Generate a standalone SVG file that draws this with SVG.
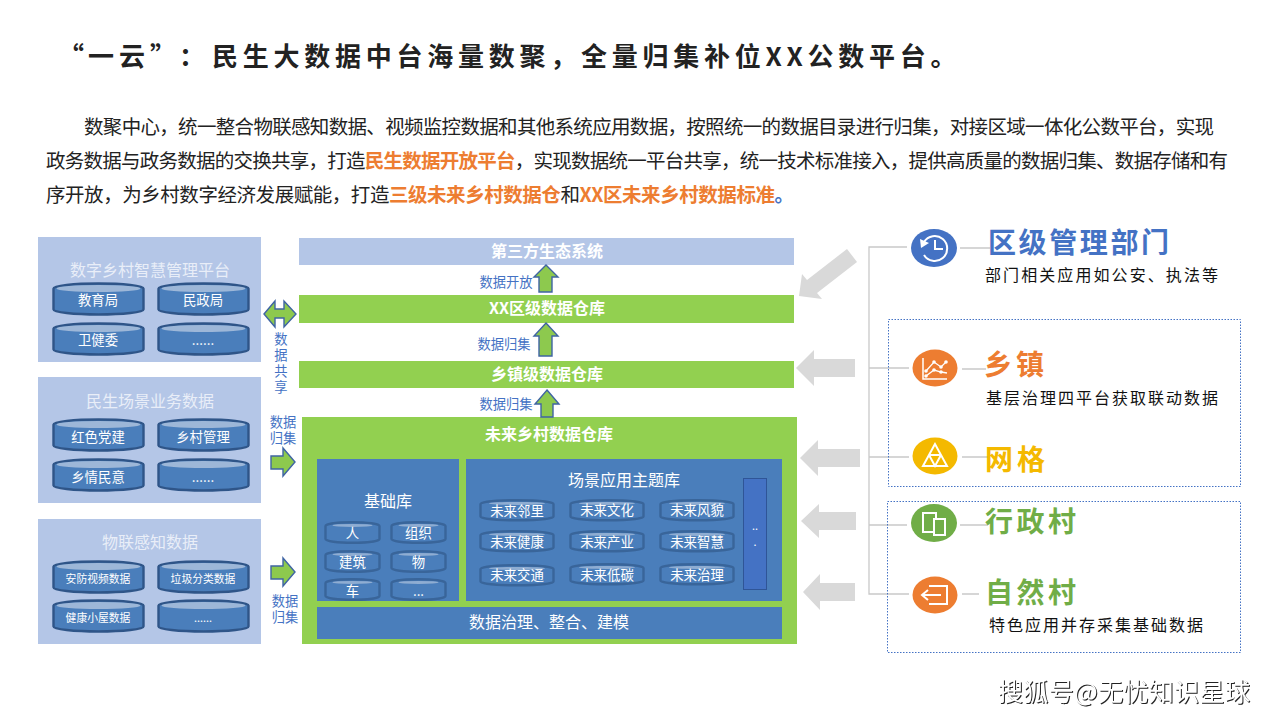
<svg xmlns="http://www.w3.org/2000/svg" width="1280" height="720" viewBox="0 0 1280 720">
<style>
text{font-family:"Noto Sans CJK SC","Noto Sans",sans-serif}
.panel{fill:#b4c6e7}.green{fill:#92d050}.blue{fill:#4a7ebb}
.ct{text-anchor:middle;fill:#fff}
.pt{font-size:16px;fill:#e9eef8;text-anchor:middle}
.cl{font-size:13.4px;fill:#fff;text-anchor:middle}
.cs{font-size:10.8px;fill:#fff;text-anchor:middle}
.flow{font-size:13.3px;fill:#4472c4;text-anchor:middle;font-family:"Liberation Sans","Noto Sans CJK SC",sans-serif}
.up{fill:#8dc94e;stroke:#3f64a3;stroke-width:1.4}
.ga{fill:#d9d9d9}
.ln{stroke:#c9c9c9;stroke-width:1.3;fill:none}
.para{font-size:19.5px;fill:#222}
.hl{fill:#ed7d31;font-weight:700}
.big{font-size:28px;font-weight:700}
.sub{font-size:16px;fill:#111}
.box{fill:none;stroke:#4472c4;stroke-width:1;stroke-dasharray:1.5 1.5}
.ic{fill:none;stroke:#fff;stroke-width:2}
.icf{fill:#fff}
</style>
<defs>
<g id="cylL"><path d="M1.5 6.5A45 5 0 0 1 91.5 6.5V27.5A45 5 0 0 1 1.5 27.5Z" fill="#4a7ebb" stroke="#2f5588" stroke-width="2.4"/><ellipse cx="46.5" cy="6.5" rx="42" ry="3.6" fill="#9db7d8"/></g>
<g id="cylM"><path d="M1.5 5A36.5 3.8 0 0 1 74.5 5V17.5A36.5 3.8 0 0 1 1.5 17.5Z" fill="#4a7ebb" stroke="#39659a" stroke-width="2.4"/><ellipse cx="38" cy="4.4" rx="28" ry="1.5" fill="#8fadd2"/></g>
<g id="cylS"><path d="M1.5 5A27 3.8 0 0 1 55.5 5V18A27 3.8 0 0 1 1.5 18Z" fill="#4a7ebb" stroke="#39659a" stroke-width="2.4"/><ellipse cx="28.5" cy="4.4" rx="20" ry="1.5" fill="#8fadd2"/></g>
</defs>
<rect width="1280" height="720" fill="#fff"/>

<g id="title"><text y="66" font-size="26" font-weight="700" fill="#222"><tspan x="58 88 119 150 179">“一云”：</tspan><tspan x="212" letter-spacing="4.75">民生大数据中台海量数聚，全量归集补位XX公数平台。</tspan></text></g>
<g id="intro">
<text class="para" x="84" y="134" textLength="1130" lengthAdjust="spacing">数聚中心，统一整合物联感知数据、视频监控数据和其他系统应用数据，按照统一的数据目录进行归集，对接区域一体化公数平台，实现</text>
<text class="para" x="46" y="168" textLength="1182" lengthAdjust="spacing">政务数据与政务数据的交换共享，打造<tspan class="hl">民生数据开放平台</tspan>，实现数据统一平台共享，统一技术标准接入，提供高质量的数据归集、数据存储和有</text>
<text class="para" x="46" y="202" textLength="748" lengthAdjust="spacing">序开放，为乡村数字经济发展赋能，打造<tspan class="hl">三级未来乡村数据仓</tspan>和<tspan class="hl">XX区未来乡村数据标准</tspan><tspan fill="#4472c4" font-weight="700">。</tspan></text>
</g>

<g id="panel-platform">
<rect class="panel" x="38" y="237" width="223" height="125"/>
<text class="pt" x="150" y="276">数字乡村智慧管理平台</text>
<use href="#cylL" x="52" y="282"/><text class="cl" x="98" y="305">教育局</text>
<use href="#cylL" x="157" y="282"/><text class="cl" x="203" y="305">民政局</text>
<use href="#cylL" x="52" y="322"/><text class="cl" x="98" y="345">卫健委</text>
<use href="#cylL" x="157" y="322"/><text class="cl" x="203" y="345">......</text>
</g>
<g id="panel-scene">
<rect class="panel" x="38" y="377" width="223" height="126"/>
<text class="pt" x="150" y="407">民生场景业务数据</text>
<use href="#cylL" x="52" y="418"/><text class="cl" x="98" y="442">红色党建</text>
<use href="#cylL" x="157" y="418"/><text class="cl" x="203" y="442">乡村管理</text>
<use href="#cylL" x="52" y="458"/><text class="cl" x="98" y="482">乡情民意</text>
<use href="#cylL" x="157" y="458"/><text class="cl" x="203" y="482">......</text>
</g>
<g id="panel-iot">
<rect class="panel" x="38" y="519" width="223" height="125"/>
<text class="pt" x="150" y="548">物联感知数据</text>
<use href="#cylL" x="52" y="560"/><text class="cs" x="98" y="583">安防视频数据</text>
<use href="#cylL" x="157" y="560"/><text class="cs" x="203" y="583">垃圾分类数据</text>
<use href="#cylL" x="52" y="599"/><text class="cs" x="98" y="622">健康小屋数据</text>
<use href="#cylL" x="157" y="599"/><text class="cs" x="203" y="622">......</text>
</g>

<g id="tier-third"><rect class="panel" x="299" y="238" width="495" height="27"/><text class="ct" x="547" y="257" font-size="16" font-weight="700">第三方生态系统</text></g>
<g id="tier-district"><rect class="green" x="299" y="295" width="495" height="28"/><text class="ct" x="547" y="314" font-size="16" font-weight="700">XX区级数据仓库</text></g>
<g id="tier-town"><rect class="green" x="299" y="361" width="495" height="27"/><text class="ct" x="547" y="380" font-size="16" font-weight="700">乡镇级数据仓库</text></g>

<g id="warehouse">
<rect class="green" x="302" y="417" width="495" height="227"/>
<text class="ct" x="549" y="440" font-size="16" font-weight="700">未来乡村数据仓库</text>
<rect class="blue" x="317" y="459" width="142" height="142"/>
<rect class="blue" x="466" y="459" width="316" height="142"/>
<rect class="blue" x="317" y="607" width="465" height="32"/>
<text class="ct" x="388" y="507" font-size="16">基础库</text>
<text class="ct" x="624" y="486" font-size="16">场景应用主题库</text>
<text class="ct" x="549" y="628" font-size="16">数据治理、整合、建模</text>
<rect x="743.500" y="478.500" width="23" height="111" fill="#4472c4" stroke="#2f5597"/>
<text class="cs" x="755" y="530">..</text><text class="cs" x="755" y="546">.</text>
<use href="#cylS" x="324" y="521"/><text class="cl" x="352.500" y="538">人</text>
<use href="#cylS" x="390" y="521"/><text class="cl" x="418.500" y="538">组织</text>
<use href="#cylS" x="324" y="550"/><text class="cl" x="352.500" y="567">建筑</text>
<use href="#cylS" x="390" y="550"/><text class="cl" x="418.500" y="567">物</text>
<use href="#cylS" x="324" y="578"/><text class="cl" x="352.500" y="596">车</text>
<use href="#cylS" x="390" y="578"/><text class="cl" x="418.500" y="596">...</text>
<use href="#cylM" x="479" y="499"/><text class="cl" x="517" y="516">未来邻里</text>
<use href="#cylM" x="569" y="499"/><text class="cl" x="607" y="515">未来文化</text>
<use href="#cylM" x="659" y="499"/><text class="cl" x="697" y="515">未来风貌</text>
<use href="#cylM" x="479" y="530"/><text class="cl" x="517" y="547">未来健康</text>
<use href="#cylM" x="569" y="530"/><text class="cl" x="607" y="547">未来产业</text>
<use href="#cylM" x="659" y="530"/><text class="cl" x="697" y="547">未来智慧</text>
<use href="#cylM" x="479" y="564"/><text class="cl" x="517" y="580">未来交通</text>
<use href="#cylM" x="569" y="563"/><text class="cl" x="607" y="580">未来低碳</text>
<use href="#cylM" x="659" y="563"/><text class="cl" x="697" y="580">未来治理</text>
</g>

<g id="connectors">
<path class="up" d="M546 265L558 277H552V292H539V277H534Z"/>
<path class="up" d="M546 323L558 336H552V356H539V336H534Z"/>
<path class="up" d="M547 390L559 404H553V417H541V404H535Z"/>
<path class="up" d="M264 314L275 301V309H284V301L296 314L284 327V318H275V327Z"/>
<path class="up" d="M283 448L295 462L283 476V469H271V456H283Z"/>
<path class="up" d="M283 558L295 572L283 586V579H271V566H283Z"/>
<path class="ga" d="M799 296L802 274L807 280L847 249L857 262L817 293L822 299Z"/>
<path class="ga" d="M796 368L814 350V359H855V377H814V386Z"/>
<path class="ga" d="M800 458L818 440V449H860V467H818V476Z"/>
<path class="ga" d="M801 521L819 504V512H856V530H819V538Z"/>
<path class="ga" d="M803 592L820 574V583H855V601H820V610Z"/>
<path class="ln" d="M907 247H869V594H909M869 368H909M869 457H909M869 525H907"/>
<path class="ln" d="M960 248H990M962 369H986M962 457H990M960 525H988M962 594H979"/>
</g>

<g id="flow-labels">
<text class="flow" x="506" y="287">数据开放</text>
<text class="flow" x="504" y="349">数据归集</text>
<text class="flow" x="506" y="409">数据归集</text>
<text class="flow"><tspan x="281" y="344">数</tspan><tspan x="281" y="360">据</tspan><tspan x="281" y="376">共</tspan><tspan x="281" y="392">享</tspan></text>
<text class="flow"><tspan x="283" y="427">数据</tspan><tspan x="283" y="443">归集</tspan></text>
<text class="flow"><tspan x="285" y="606">数据</tspan><tspan x="285" y="622">归集</tspan></text>
</g>

<rect class="box" x="888.500" y="319.500" width="352" height="167"/>
<rect class="box" x="887.500" y="501.500" width="353" height="151"/>

<g id="node-district">
<ellipse cx="934" cy="248" rx="23" ry="19" fill="#4472c4"/>
<path class="ic" d="M924 242A12.500 12.500 0 1 1 924 255"/><path class="icf" d="M920 239L929 243L921 248Z"/><path class="ic" d="M935 240V249H943"/>
<text class="big" x="988" y="253" fill="#4472c4" textLength="181" lengthAdjust="spacing">区级管理部门</text>
<text class="sub" x="985" y="281" textLength="233" lengthAdjust="spacing">部门相关应用如公安、执法等</text>
</g>
<g id="node-town">
<ellipse cx="935" cy="368" rx="22.500" ry="18.500" fill="#ed7d31"/>
<path d="M923 358V379H947" fill="none" stroke="#fff" stroke-width="1.500"/>
<path d="M926 371L934 362L941 367L946 362M926 376L934 370L941 372L947 373" fill="none" stroke="#fff" stroke-width="1.300"/>
<g class="icf"><circle cx="926" cy="371" r="1.800"/><circle cx="934" cy="362" r="1.800"/><circle cx="941" cy="367" r="1.800"/><circle cx="934" cy="370" r="1.800"/><circle cx="941" cy="372" r="1.800"/><circle cx="946" cy="362" r="1.800"/><circle cx="926" cy="376" r="1.800"/></g>
<text class="big" x="984" y="375" fill="#ed7d31" textLength="60" lengthAdjust="spacing">乡镇</text>
<text class="sub" x="986" y="404" textLength="232" lengthAdjust="spacing">基层治理四平台获取联动数据</text>
</g>
<g id="node-grid">
<ellipse cx="935" cy="456" rx="22.500" ry="18.500" fill="#f4b900"/>
<path class="ic" d="M935 444L923 466H947ZM929 455H941M929 455L935 466L941 455"/>
<text class="big" x="985" y="470" fill="#f4b900" textLength="60" lengthAdjust="spacing">网格</text>
</g>
<g id="node-admin-village">
<ellipse cx="934" cy="523" rx="23" ry="19" fill="#70ad47"/>
<path class="ic" d="M923 513H936V532H923Z"/><path d="M934 519H945V535H934Z" fill="#70ad47" stroke="#fff" stroke-width="2"/>
<text class="big" x="985" y="532" fill="#70ad47" textLength="91" lengthAdjust="spacing">行政村</text>
</g>
<g id="node-natural-village">
<ellipse cx="935" cy="595" rx="22.500" ry="18.500" fill="#ed7d31"/>
<path class="ic" d="M929 586H947V604H929M922 595H941"/><path class="ic" d="M928 590L922 595L928 600"/>
<text class="big" x="985" y="603" fill="#70ad47" textLength="91" lengthAdjust="spacing">自然村</text>
<text class="sub" x="989" y="631" textLength="214" lengthAdjust="spacing">特色应用并存采集基础数据</text>
</g>

<g id="watermark"><text x="998" y="701" font-size="25" fill="#fff" textLength="252" lengthAdjust="spacing" style="filter:drop-shadow(1px 1px 0 #222)">搜狐号@无忧知识星球</text></g>
</svg>
